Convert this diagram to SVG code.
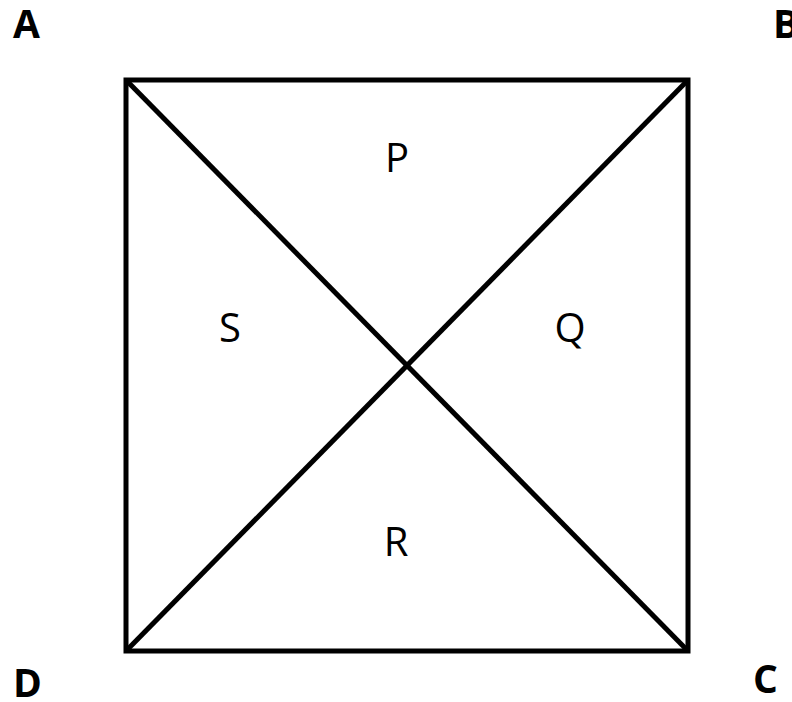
<svg xmlns="http://www.w3.org/2000/svg" width="792" height="702" viewBox="0 0 792 702">
<style>
.edge{stroke:#000;stroke-width:5;fill:none;stroke-linejoin:miter}
.v{font-family:"Open Sans","Liberation Sans",sans-serif;font-weight:bold;font-size:39px;fill:#000}
.r{font-family:"Open Sans","Liberation Sans",sans-serif;font-size:40px;fill:#000;text-anchor:middle}
</style>
<rect width="792" height="702" fill="#fff"/>
<g id="connectors">
<rect class="edge" x="126" y="80" width="562" height="571"/>
<line class="edge" x1="126" y1="80" x2="688" y2="651"/>
<line class="edge" x1="688" y1="80" x2="126" y2="651"/>
</g>
<g id="A"><text class="v" x="13" y="38">A</text></g>
<g id="B"><text class="v" x="773" y="38">B</text></g>
<g id="C"><text class="v" x="753" y="693">C</text></g>
<g id="D"><text class="v" x="13" y="697">D</text></g>
<g id="P"><text class="r" x="397" y="172">P</text></g>
<g id="Q"><text class="r" x="570" y="342">Q</text></g>
<g id="R"><text class="r" x="396" y="556">R</text></g>
<g id="S"><text class="r" x="230" y="342">S</text></g>
</svg>
